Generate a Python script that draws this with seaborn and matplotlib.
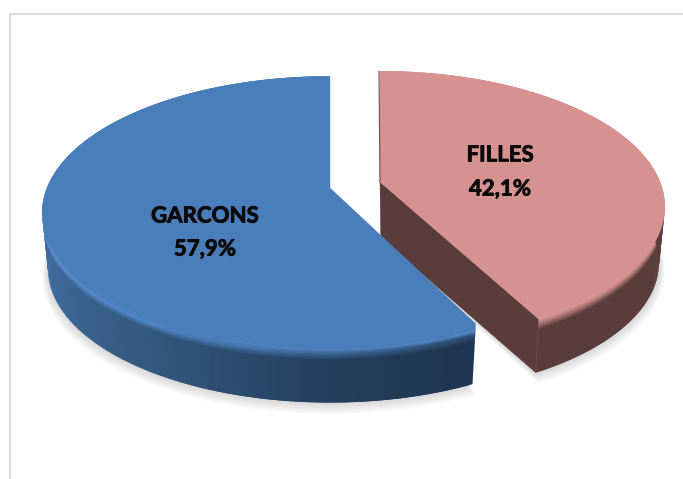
import numpy as np
import matplotlib
matplotlib.use('Agg')
import matplotlib.pyplot as plt
import matplotlib.patheffects as pe
from matplotlib.colors import to_rgb
import seaborn as sb

# values
labels = ['GARCONS', 'FILLES']
shares = [57.9, 42.1]

# look
face_blue = '#4a7ebb'
face_pink = '#d69291'
wall_blue = ['#4373a8', '#3d6796', '#33587f', '#25415f', '#1c344f']
rim_blue = ['#629ae0', '#5a90d4', '#4f86c6', '#3f6b9e', '#2f4f75']
wall_pink = ['#5a3d3a', '#5a3d3a']
rim_pink = ['#b87f7d', '#b87f7d']

sb.set_theme(style='white')
plt.rcParams['font.family'] = ['Lato', 'DejaVu Sans']

fig = plt.figure(figsize=(6.83, 4.79), dpi=100)
ax = fig.add_axes([0, 0, 1, 1])
ax.set_xlim(0, 683)
ax.set_ylim(479, 0)
ax.axis('off')

# frame of the chart area
ax.plot([10, 10, 683], [479, 14, 14], color='#dcdcdc', lw=1.5, solid_joinstyle='miter')


def project(theta, slc, drop=0.0):
    # flat disk seen in perspective, drop = how far down the side wall
    t = np.radians(theta)
    shrink = 1 - 0.02 * drop / 55
    w = 1 + 0.182 * np.sin(t)
    x = slc['cx'] + slc['r'] * shrink * np.cos(t) / w
    y = slc['cy'] - slc['a'] * shrink * np.sin(t) / w + drop
    return x, y


def mix(c1, c2, t):
    return tuple((1 - t) * np.array(to_rgb(c1)) + t * np.array(to_rgb(c2)))


# slices go clockwise from 12 o'clock
blue_end = 90 + shares[0] * 3.6 - 3
pink_start = 90 - shares[1] * 3.6
blue = dict(cx=330, cy=188, r=283, a=132, t0=90, t1=blue_end, face=face_blue,
            wall=wall_blue, rim=rim_blue, grad=(180, blue_end))
pink = dict(cx=380, cy=182, r=280, a=131, t0=pink_start, t1=90, face=face_pink,
            wall=wall_pink, rim=rim_pink, grad=(pink_start, 90))

depth = 56
bevel = 12


def draw_shadow(slc):
    th = np.linspace(slc['t0'], slc['t1'], 120)
    for i in range(9):
        s = dict(slc)
        s['r'] = slc['r'] * (1 + 0.003 * i)
        s['a'] = slc['a'] * (1 + 0.003 * i)
        x, y = project(th, s, depth + 1.1 * i)
        ax.fill(np.r_[slc['cx'], x], np.r_[slc['cy'] + depth, y], color='black',
                alpha=0.02, lw=0)


def draw_slice(slc):
    th = np.linspace(slc['t0'], slc['t1'], 241)
    n = 200
    wall = sb.blend_palette(slc['wall'], n)
    rim = sb.blend_palette(slc['rim'], n)
    g0, g1 = slc['grad']
    # flat cut wall, seen on the pink slice only
    if slc is pink:
        xa, ya = project(th[0], slc, 0)
        xb, yb = project(th[0], slc, depth)
        ax.fill([slc['cx'], xa, xb, slc['cx'] + 1], [slc['cy'], ya, yb, slc['cy'] + depth],
                color=wall[0], lw=0.4)
    d = np.r_[np.linspace(0, bevel, 9), depth]
    # strips overlap their neighbour so no seam shows
    for i in range(len(th) - 2):
        mid = (th[i] + th[i + 1]) / 2
        f = np.clip((mid - g0) / (g1 - g0), 0, 1)
        if slc is pink:
            f = 0
        idx = int(f * (n - 1))
        for j in range(len(d) - 1):
            tt = j / 7 if j < 8 else 1
            if tt < 0.3:
                col = mix(slc['face'], rim[idx], tt / 0.3)
            else:
                col = mix(rim[idx], wall[idx], min((tt - 0.3) / 0.7, 1))
            x0, y0 = project(th[i:i + 3], slc, d[j])
            x1, y1 = project(th[i:i + 3], slc, d[j + 1] + 0.5)
            ax.fill(np.r_[x0, x1[::-1]], np.r_[y0, y1[::-1]], color=col, lw=0)
    x, y = project(th, slc, 0)
    if slc is blue:
        # the corner of the blue slice sits a little higher than the arc
        ax.fill(np.r_[slc['cx'], x, x[-1]], np.r_[slc['cy'], y, y[-1] - 7],
                color=slc['face'], lw=0.3)
    else:
        ax.fill(np.r_[slc['cx'], x], np.r_[slc['cy'], y], color=slc['face'], lw=0.3)
        xe, ye = project(np.array([90.0]), slc, 0)
        ax.plot([slc['cx'], xe[0] - 1], [slc['cy'], ye[0]], color='#6b4a48', lw=0.8)


draw_shadow(blue)
draw_shadow(pink)
draw_slice(pink)
draw_slice(blue)

bold = [pe.withStroke(linewidth=0.6, foreground='#0a0a0a')]
label_pos = [(205, 216, 249), (500, 155, 189)]
for name, val, (lx, ly1, ly2) in zip(labels, shares, label_pos):
    ax.text(lx, ly1, name, ha='center', va='center', fontsize=16, fontweight='bold',
            color='#0a0a0a', path_effects=bold)
    ax.text(lx, ly2, f'{val:.1f}%'.replace('.', ','), ha='center', va='center',
            fontsize=16, fontweight='bold', color='#0a0a0a', path_effects=bold)

fig.savefig('out.png', dpi=100)
